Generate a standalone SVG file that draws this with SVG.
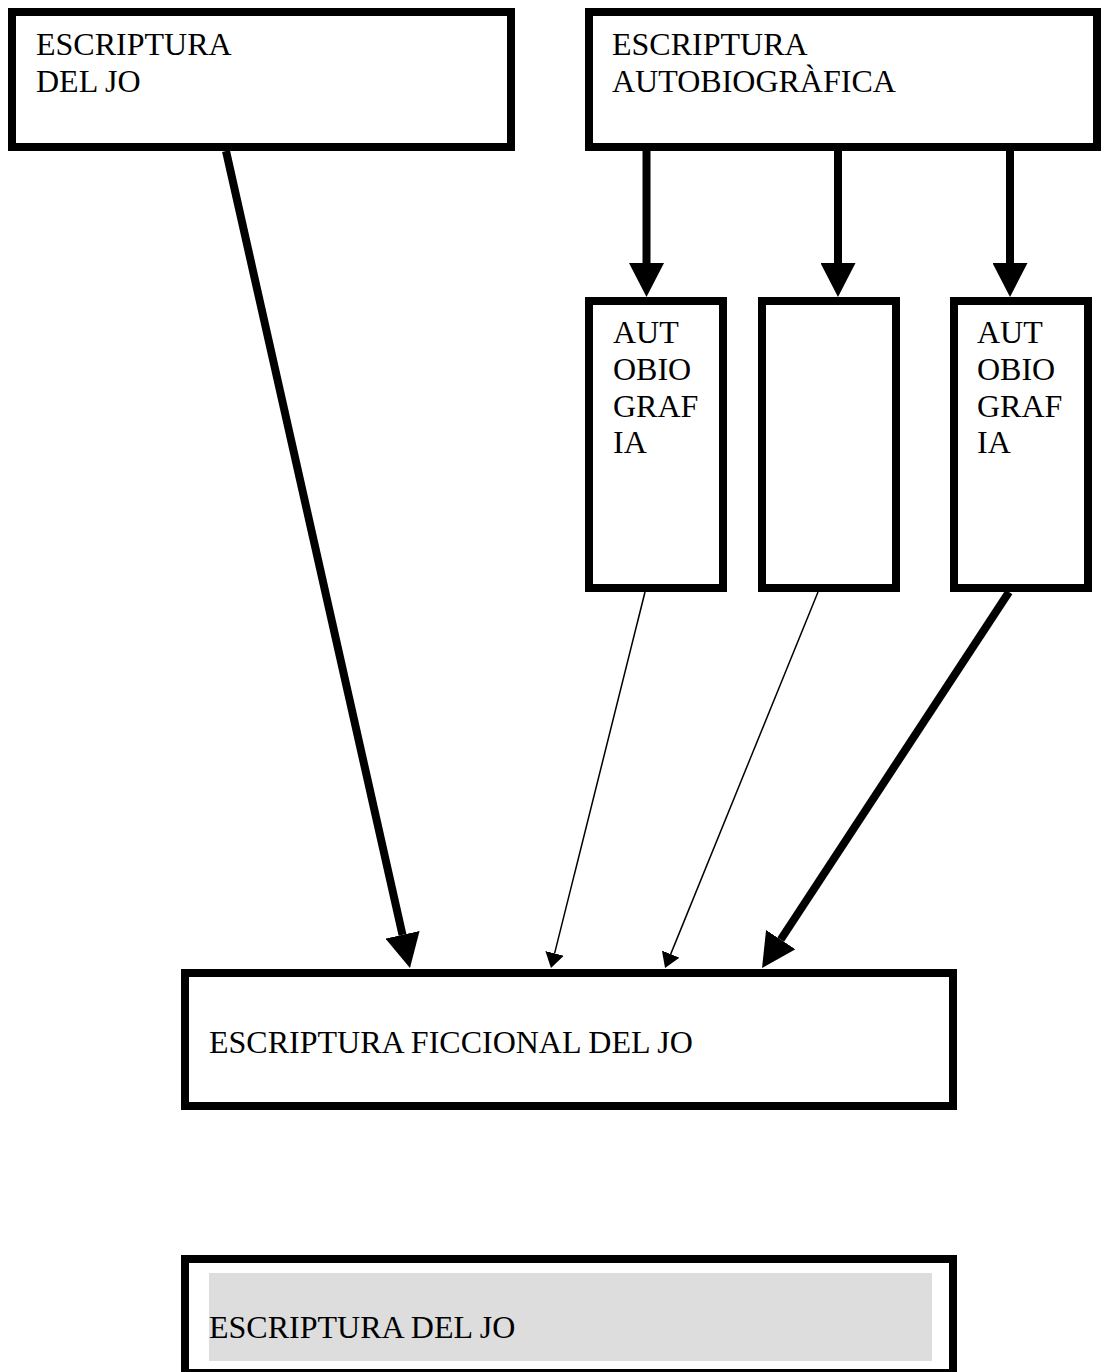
<svg xmlns="http://www.w3.org/2000/svg" width="1109" height="1372" viewBox="0 0 1109 1372">
<style>
.box{fill:#fff;stroke:#000;stroke-width:8}
.t{font-family:"Liberation Serif","Times New Roman",serif;font-size:32px;fill:#000}
.thick{stroke:#000;stroke-width:8;fill:none}
.thin{stroke:#000;stroke-width:1.5;fill:none}
</style>
<defs>
<marker id="big" markerUnits="userSpaceOnUse" markerWidth="34" markerHeight="35" refX="0" refY="17.5" orient="auto" viewBox="0 0 34 35"><path d="M0,0 L34,17.5 L0,35 z" fill="#000"/></marker>
<marker id="small" markerUnits="userSpaceOnUse" markerWidth="15" markerHeight="19" refX="0" refY="9.5" orient="auto" viewBox="0 0 15 19"><path d="M0,0 L15,9.5 L0,19 z" fill="#000"/></marker>
</defs>
<rect width="1109" height="1372" fill="#fff"/>
<g id="connectors">
<line class="thick" x1="226" y1="151" x2="402.5" y2="934.8" marker-end="url(#big)"/>
<line class="thick" x1="646.5" y1="151" x2="646.5" y2="263" marker-end="url(#big)"/>
<line class="thick" x1="838" y1="151" x2="838" y2="263" marker-end="url(#big)"/>
<line class="thick" x1="1010" y1="151" x2="1010" y2="263" marker-end="url(#big)"/>
<line class="thin" x1="645" y1="592" x2="554.6" y2="953.4" marker-end="url(#small)"/>
<line class="thin" x1="818" y1="592" x2="670.7" y2="954.1" marker-end="url(#small)"/>
<line class="thick" x1="1009" y1="592" x2="780.7" y2="939.6" marker-end="url(#big)"/>
</g>
<g id="escriptura-del-jo">
<rect class="box" x="12" y="12" width="499" height="135"/>
<text class="t" x="36" y="55">ESCRIPTURA</text>
<text class="t" x="36" y="92">DEL JO</text>
</g>
<g id="escriptura-autobiografica">
<rect class="box" x="589" y="12" width="508" height="135"/>
<text class="t" x="612" y="55">ESCRIPTURA</text>
<text class="t" x="612" y="92">AUTOBIOGRÀFICA</text>
</g>
<g id="autobiografia-1">
<rect class="box" x="589" y="301" width="134" height="287"/>
<text class="t" x="613" y="343">AUT</text>
<text class="t" x="613" y="380">OBIO</text>
<text class="t" x="613" y="417">GRAF</text>
<text class="t" x="613" y="453">IA</text>
</g>
<g id="blank-box">
<rect class="box" x="762" y="301" width="134" height="287"/>
</g>
<g id="autobiografia-2">
<rect class="box" x="954" y="301" width="134" height="287"/>
<text class="t" x="977" y="343">AUT</text>
<text class="t" x="977" y="380">OBIO</text>
<text class="t" x="977" y="417">GRAF</text>
<text class="t" x="977" y="453">IA</text>
</g>
<g id="escriptura-ficcional">
<rect class="box" x="185" y="973" width="768" height="133"/>
<text class="t" x="209" y="1053">ESCRIPTURA FICCIONAL DEL JO</text>
</g>
<g id="escriptura-del-jo-bottom">
<rect class="box" x="185" y="1259" width="768" height="114"/>
<rect x="209" y="1273" width="723" height="88" fill="#dddddd"/>
<text class="t" x="209" y="1338">ESCRIPTURA DEL JO</text>
</g>
</svg>
